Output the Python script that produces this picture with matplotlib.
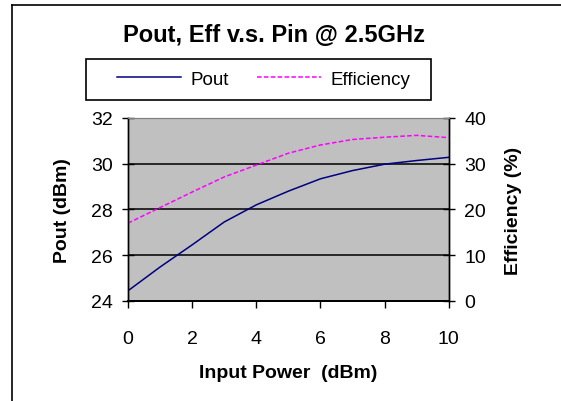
import matplotlib.pyplot as plt
from matplotlib.patches import Rectangle

plt.rcParams['font.family'] = ['Liberation Sans', 'DejaVu Sans']

# data
pin = [0, 1, 2, 3, 4, 5, 6, 7, 8, 9, 10]
pout = [24.44, 25.48, 26.45, 27.45, 28.2, 28.8, 29.34, 29.7, 29.98, 30.14, 30.28]
eff = [17.0, 20.4, 23.8, 27.1, 29.7, 32.3, 34.1, 35.3, 35.8, 36.2, 35.7]

fig = plt.figure(figsize=(5.61, 4.02), dpi=100)
ax = fig.add_axes([0.228, 0.249, 0.572, 0.455])
ax.set_facecolor('#C0C0C0')

ax.plot(pin, pout, color='#000080', lw=1.1, label='Pout')
ax2 = ax.twinx()
ax2.plot(pin, eff, color='#FF00FF', lw=1.1, ls=(0, (3, 1.5)), label='Efficiency')

ax.set_xlim(0, 10)
ax.set_ylim(24, 32)
ax2.set_ylim(0, 40)
ax.set_xticks([0, 2, 4, 6, 8, 10])
ax.set_yticks([24, 26, 28, 30, 32])
ax2.set_yticks([0, 10, 20, 30, 40])

for y in [26, 28, 30]:
    ax.axhline(y, color='black', lw=1.1, zorder=1)

ax.tick_params(axis='x', direction='out', length=5, width=1, pad=16, labelsize=14)
ax.tick_params(axis='y', direction='inout', length=8, width=1, pad=7, labelsize=14)
ax2.tick_params(axis='y', direction='inout', length=8, width=1, pad=7, labelsize=14)

for a in (ax, ax2):
    a.spines['top'].set_color('#808080')
    a.spines['left'].set_linewidth(1)
    a.spines['right'].set_linewidth(1)
    a.spines['bottom'].set_linewidth(1.3)

ax.set_xlabel('Input Power  (dBm)', fontsize=14, fontweight='bold', labelpad=12)
ax.set_ylabel('Pout (dBm)', fontsize=14, fontweight='bold', labelpad=14)
ax2.set_ylabel('Efficiency (%)', fontsize=14, fontweight='bold', labelpad=14)

fig.text(0.488, 0.912, 'Pout, Eff v.s. Pin @ 2.5GHz', ha='center', va='center',
         fontsize=17, fontweight='bold')

# legend box
fig.patches.append(Rectangle((0.153, 0.749), 0.615, 0.102, transform=fig.transFigure,
                             fill=False, edgecolor='black', lw=1.2))
h1, l1 = ax.get_legend_handles_labels()
h2, l2 = ax2.get_legend_handles_labels()
fig.legend(h1 + h2, l1 + l2, loc='center', bbox_to_anchor=(0.47, 0.80), ncol=2,
           frameon=False, fontsize=13.5, handlelength=3.4, handletextpad=0.5,
           columnspacing=1.5)

# outer chart border (left and top visible)
fig.add_artist(plt.Line2D([0.0214, 0.0214], [0, 0.985], color='black', lw=1.2,
                          transform=fig.transFigure))
fig.add_artist(plt.Line2D([0.0214, 1], [0.985, 0.985], color='black', lw=1.2,
                          transform=fig.transFigure))

fig.savefig('out.png', dpi=100)
